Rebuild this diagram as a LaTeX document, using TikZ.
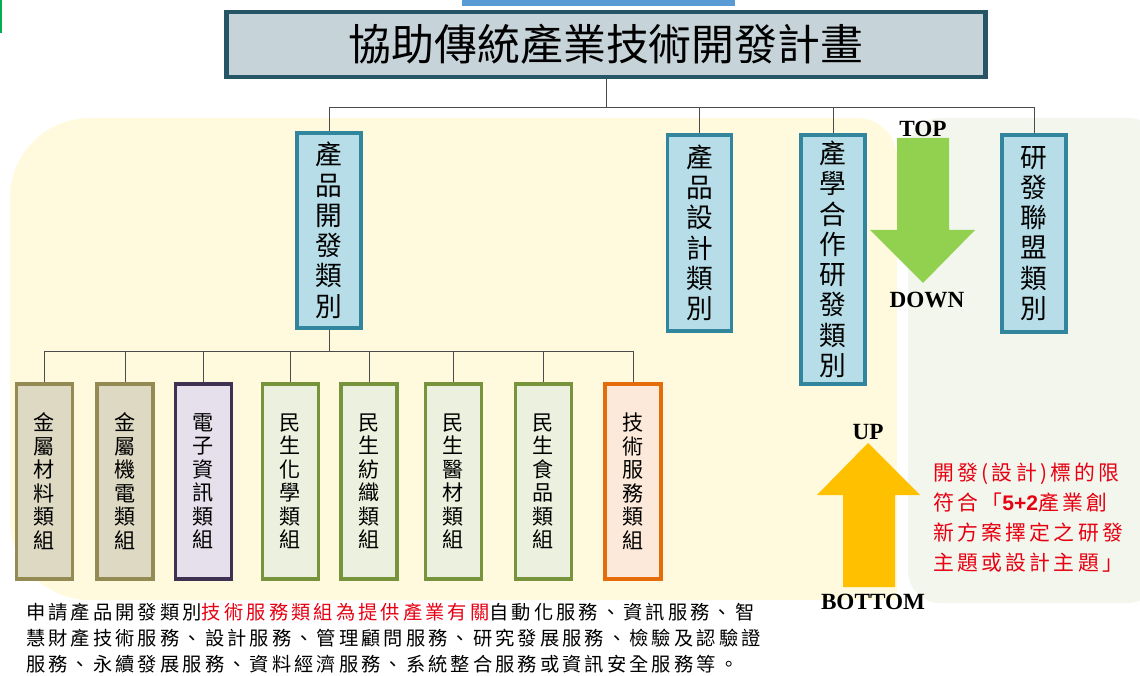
\documentclass[tikz,border=0pt]{standalone}
\usepackage{fontspec}
\setmainfont{Liberation Serif}
\newfontfamily\cjk{Noto Sans CJK TC}
\newfontfamily\cjkwide[LetterSpace=16]{Noto Sans CJK TC}
\newfontfamily\digits{Liberation Sans}
\usepackage{tikz}
\definecolor{bgyellow}{RGB}{255,249,222}
\definecolor{bggreen}{RGB}{243,246,237}
\definecolor{titlefill}{RGB}{198,211,217}
\definecolor{titleline}{RGB}{38,86,102}
\definecolor{catfill}{RGB}{183,222,232}
\definecolor{catline}{RGB}{49,133,156}
\definecolor{metfill}{RGB}{221,217,195}
\definecolor{metline}{RGB}{148,138,84}
\definecolor{elefill}{RGB}{229,224,236}
\definecolor{eleline}{RGB}{63,49,81}
\definecolor{livfill}{RGB}{235,241,222}
\definecolor{livline}{RGB}{119,147,60}
\definecolor{srvfill}{RGB}{253,233,217}
\definecolor{srvline}{RGB}{228,108,10}
\definecolor{downfill}{RGB}{146,208,80}
\definecolor{upfill}{RGB}{255,192,0}
\definecolor{notered}{RGB}{230,0,18}
\definecolor{barblue}{RGB}{91,155,213}
\definecolor{bargreen}{RGB}{0,176,80}

\begin{document}
\begin{tikzpicture}[x=0.025cm, y=-0.025cm,
		catbox/.style={draw=catline, fill=catfill, line width=2.5pt, minimum width=1.6cm, inner sep=0pt, anchor=north, align=center, font=\cjk\fontsize{19}{21.5}\selectfont},
		groupbox/.style={line width=2.5pt, minimum width=1.4cm, minimum height=4.875cm, inner sep=0pt, anchor=north, align=center, font=\cjk\fontsize{15}{16.7}\selectfont},
		metal/.style={groupbox, draw=metline, fill=metfill},
		elec/.style={groupbox, draw=eleline, fill=elefill},
		living/.style={groupbox, draw=livline, fill=livfill},
		service/.style={groupbox, draw=srvline, fill=srvfill},
		word/.style={font=\bfseries\fontsize{16.5}{18}\selectfont, inner sep=0pt},
		link/.style={draw=black!70, line width=0.7pt}]
		\useasboundingbox (0,0) rectangle (1140,676);

		\fill[bgyellow] (10,400) [rounded corners=2cm] -- (10,118) [rounded corners=1cm] -- (897,118) [rounded corners=2pt] -- (897,600) [rounded corners=2cm] -- (10,600) -- cycle;
		\fill[bggreen, rounded corners=0.8cm] (908,118) rectangle (1160,603);
		\fill[barblue] (462,0) rectangle (735,6);
		\fill[bargreen] (0,0) rectangle (2,33);

		\node[draw=titleline, fill=titlefill, line width=3.5pt, minimum width=18.95cm, minimum height=1.625cm, font=\cjk\fontsize{30.5}{36}\selectfont] (title) at (606,44.5) {協助傳統產業技術開發計畫};

		\node[catbox, minimum height=4.875cm] (product) at (329,131) {產\\品\\開\\發\\類\\別};
		\node[catbox, minimum height=4.9cm] (design) at (699.5,133) {產\\品\\設\\計\\類\\別};
		\node[catbox, minimum height=6.225cm] (coop) at (833,133) {產\\學\\合\\作\\研\\發\\類\\別};
		\node[catbox, minimum height=4.925cm] (alliance) at (1034,133) {研\\發\\聯\\盟\\類\\別};

		\path (title.south) ++(0,28) coordinate (bus);
		\draw[link] (title.south) -- (bus) -| (product.north);
		\draw[link] (bus) -| (design.north);
		\draw[link] (bus) -| (coop.north);
		\draw[link] (bus) -| (alliance.north);

		\node[metal] (g1) at (44.5,382) {金\\屬\\材\\料\\類\\組};
		\node[metal] (g2) at (125,382) {金\\屬\\機\\電\\類\\組};
		\node[elec] (g3) at (203.5,382) {電\\子\\資\\訊\\類\\組};
		\node[living] (g4) at (290.5,382) {民\\生\\化\\學\\類\\組};
		\node[living] (g5) at (369,382) {民\\生\\紡\\織\\類\\組};
		\node[living] (g6) at (453.5,382) {民\\生\\醫\\材\\類\\組};
		\node[living] (g7) at (543.5,382) {民\\生\\食\\品\\類\\組};
		\node[service] (g8) at (633,382) {技\\術\\服\\務\\類\\組};

		\path (product.south) ++(0,22) coordinate (split);
		\draw[link] (product.south) -- (split) -| (g1.north);
		\draw[link] (split) -| (g2.north);
		\draw[link] (split) -| (g3.north);
		\draw[link] (split) -| (g4.north);
		\draw[link] (split) -| (g5.north);
		\draw[link] (split) -| (g6.north);
		\draw[link] (split) -| (g7.north);
		\draw[link] (split) -| (g8.north);

		\fill[downfill] (897,138) -- (949,138) -- (949,230) -- (975,230) -- (923,283) -- (870,230) -- (897,230) -- cycle;
		\fill[upfill] (843,587) -- (895,587) -- (895,495) -- (920,495) -- (868,443) -- (817,495) -- (843,495) -- cycle;
		\node[word] (top) at (923,129) {TOP};
		\node[word] (down) at (927,300) {DOWN};
		\node[word] (up) at (868,432) {UP};
		\node[word] (bottom) at (873,602) {BOTTOM};

		\node[anchor=west, align=left, inner sep=0pt, text=notered, font=\cjkwide\fontsize{14.8}{21.3}\selectfont] (rule) at (933,518) {開發(設計)標的限\\符合「{\digits\bfseries\fontsize{15}{21.3}\selectfont 5+2}產業創\\新方案擇定之研發\\主題或設計主題」};

		\node[anchor=west, align=left, inner sep=0pt, font=\cjkwide\fontsize{13.7}{18.5}\selectfont] (remark) at (26,638) {申請產品開發類別\textcolor{notered}{技術服務類組為提供產業有關}自動化服務、資訊服務、智\\慧財產技術服務、設計服務、管理顧問服務、研究發展服務、檢驗及認驗證\\服務、永續發展服務、資料經濟服務、系統整合服務或資訊安全服務等。};
	\end{tikzpicture}
\end{document}
